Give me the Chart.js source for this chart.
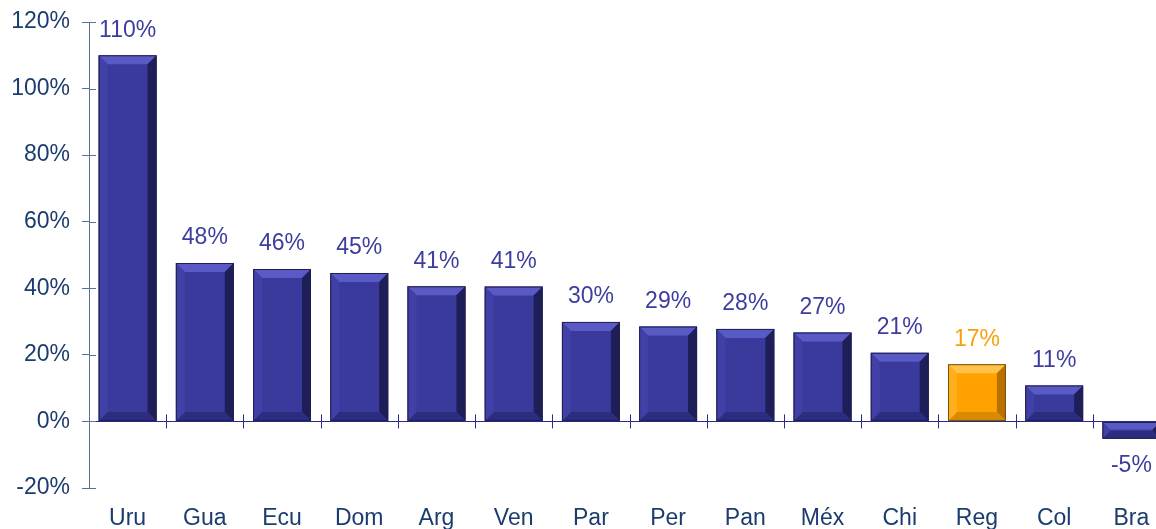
<!DOCTYPE html>
<html>
<head>
<meta charset="utf-8">
<script src="https://cdn.jsdelivr.net/npm/chart.js@4.4.1/dist/chart.umd.min.js"></script>
<style>
  html, body { margin: 0; padding: 0; background: #fff; overflow: hidden; }
  #wrap { width: 1170px; height: 529px; }
</style>
</head>
<body>
<div id="wrap"><canvas id="chart-growth"></canvas></div>
<script>
const countries = ["Uru", "Gua", "Ecu", "Dom", "Arg", "Ven", "Par", "Per", "Pan", "Méx", "Chi", "Reg", "Col", "Bra"];
const growth = [110, 47.6, 45.8, 44.6, 40.6, 40.5, 29.9, 28.5, 27.8, 26.7, 20.6, 17.2, 10.8, -5.2];
const highlight = "Reg";
const yTicks = [-20, 0, 20, 40, 60, 80, 100, 120];

(function () {
  const font = "Liberation Sans, Arial, sans-serif";
  const navy = "#1b3c6e";
  const axisColor = "#5b7391";
  const zeroColor = "#2a2a8c";
  const labelBlue = "#3d3d9f";
  const orange = "#ffa200";

  const faces = countries.map((c) => (c === highlight ? orange : "#3a3a9d"));

  // bevel + value labels, drawn from the bar elements
  const bevel = {
    id: "bevel",
    afterDatasetsDraw(chart) {
      const ctx = chart.ctx;
      const meta = chart.getDatasetMeta(0);
      meta.data.forEach((bar, i) => {
        const isHi = countries[i] === highlight;
        const l = bar.x - bar.width / 2;
        const r = bar.x + bar.width / 2;
        const t = Math.min(bar.y, bar.base);
        const bo = Math.max(bar.y, bar.base);
        const b = Math.min(9, (bo - t) / 2.2);
        const poly = (pts, col) => {
          ctx.beginPath();
          ctx.moveTo(pts[0][0], pts[0][1]);
          pts.slice(1).forEach((p) => ctx.lineTo(p[0], p[1]));
          ctx.closePath();
          ctx.fillStyle = col;
          ctx.fill();
        };
        ctx.save();
        poly([[l, t], [r, t], [r - b, t + b], [l + b, t + b]], isHi ? "#ffc24a" : "#5a5ac6");
        poly([[r, t], [r, bo], [r - b, bo - b], [r - b, t + b]], isHi ? "#b87000" : "#1e1e58");
        poly([[l, bo], [r, bo], [r - b, bo - b], [l + b, bo - b]], isHi ? "#d88a00" : "#2d2d80");
        poly([[l, t], [l, bo], [l + b, bo - b], [l + b, t + b]], isHi ? "#ffaf1c" : "#4040a6");
        ctx.strokeStyle = isHi ? "#7a5200" : "#20204a";
        ctx.lineWidth = 1;
        ctx.strokeRect(l + 0.5, t + 0.5, r - l - 1, bo - t - 1);

        const v = growth[i];
        ctx.font = "23px " + font;
        ctx.textAlign = "center";
        ctx.textBaseline = "middle";
        ctx.fillStyle = isHi ? "#f7a10c" : labelBlue;
        ctx.fillText(Math.round(v) + "%", bar.x, v >= 0 ? bar.y - 25 : bar.y + 27);
        ctx.restore();
      });
    },
    afterDraw(chart) {
      const ctx = chart.ctx;
      const xs = chart.scales.x;
      const ys = chart.scales.y;
      const zeroY = ys.getPixelForValue(0);
      ctx.save();
      ctx.lineWidth = 1;
      // inner part of y ticks
      ctx.strokeStyle = axisColor;
      yTicks.forEach((v) => {
        const py = Math.round(ys.getPixelForValue(v)) + 0.5;
        ctx.beginPath();
        ctx.moveTo(xs.left, py);
        ctx.lineTo(xs.left + 7, py);
        ctx.stroke();
      });
      // category ticks on the zero line
      ctx.strokeStyle = zeroColor;
      const step = xs.width / countries.length;
      for (let i = 0; i < countries.length; i++) {
        const px = Math.round(xs.left + step * (i + 1)) + 0.5;
        ctx.beginPath();
        ctx.moveTo(px, zeroY - 7);
        ctx.lineTo(px, zeroY + 7);
        ctx.stroke();
      }
      ctx.restore();
    },
  };

  const el = document.getElementById("chart-growth");
  new Chart(el, {
    type: "bar",
    data: {
      labels: countries,
      datasets: [
        {
          data: growth,
          backgroundColor: faces,
          borderWidth: 0,
          barPercentage: 0.75,
          categoryPercentage: 1,
        },
      ],
    },
    options: {
      responsive: true,
      maintainAspectRatio: false,
      animation: false,
      layout: { padding: { top: 22, left: 0, right: 0, bottom: 0 } },
      plugins: { legend: { display: false }, tooltip: { enabled: false } },
      scales: {
        x: {
          grid: { display: false },
          border: { display: false },
          ticks: { color: navy, font: { family: font, size: 23 }, padding: 9 },
          afterFit(scale) { scale.height = 41; },
        },
        y: {
          min: -20,
          max: 120,
          afterBuildTicks(scale) { scale.ticks = yTicks.map((v) => ({ value: v })); },
          ticks: {
            color: navy,
            font: { family: font, size: 23 },
            padding: 12,
            callback: (v) => v + "%",
          },
          border: { color: axisColor, width: 1 },
          grid: {
            color: (c) => (c.tick && c.tick.value === 0 ? zeroColor : "rgba(0,0,0,0)"),
            tickColor: axisColor,
            tickLength: 7,
            lineWidth: 1,
          },
          afterFit(scale) {
            scale.width = 89;
            scale.paddingTop = 0;
            scale.paddingBottom = 0;
          },
        },
      },
    },
    plugins: [bevel],
  });
})();
</script>
</body>
</html>
